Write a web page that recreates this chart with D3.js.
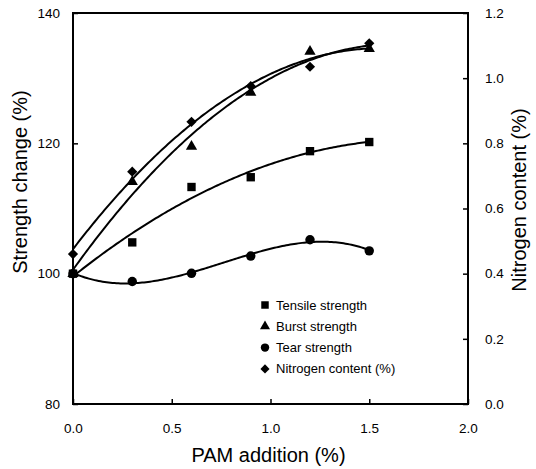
<!DOCTYPE html>
<html>
<head>
<meta charset="UTF-8">
<title>PAM addition chart</title>
<script src="https://cdn.jsdelivr.net/npm/d3@7"></script>
<style>
  body { margin: 0; background: #fff; }
  text { font-family: "Liberation Sans", Arial, sans-serif; fill: #000; }
</style>
</head>
<body>
<div id="chart"></div>
<script>
// PAM addition (%)
var pam = [0, 0.3, 0.6, 0.9, 1.2, 1.5];
// strength change (%), left axis
var tensile = [100, 104.8, 113.3, 114.8, 118.8, 120.2];
var burst = [100, 114.1, 119.5, 127.8, 134.1, 134.5];
var tear = [100, 98.8, 100.05, 102.7, 105.2, 103.5];
// nitrogen content (%), right axis
var nitrogen = [0.46, 0.713, 0.866, 0.976, 1.035, 1.107];

var xTicks = [0, 0.5, 1.0, 1.5, 2.0];
var yLeftTicks = [80, 100, 120, 140];
var yRightTicks = [0, 0.2, 0.4, 0.6, 0.8, 1.0, 1.2];
var legendNames = ["Tensile strength", "Burst strength", "Tear strength", "Nitrogen content (%)"];

var width = 536, height = 469;
var margin = { left: 73, right: 68, top: 13, bottom: 65 };
var iw = width - margin.left - margin.right;
var ih = height - margin.top - margin.bottom;

var svg = d3.select("#chart").append("svg")
    .attr("width", width)
    .attr("height", height);

var g = svg.append("g")
    .attr("transform", "translate(" + margin.left + "," + margin.top + ")");

var x = d3.scaleLinear().domain([0, 2]).range([0, iw]);
var yL = d3.scaleLinear().domain([80, 140]).range([ih, 0]);
var yR = d3.scaleLinear().domain([0, 1.2]).range([ih, 0]);

// least squares polynomial fit (trend lines like in the original)
function polyfit(xs, ys, deg) {
    var n = deg + 1;
    var A = [], b = [];
    for (var i = 0; i < n; i++) {
        A.push([]);
        for (var j = 0; j < n; j++) {
            A[i].push(d3.sum(xs, function (v) { return Math.pow(v, i + j); }));
        }
        b.push(d3.sum(xs, function (v, k) { return ys[k] * Math.pow(v, i); }));
    }
    // gauss elimination
    for (var c = 0; c < n; c++) {
        var p = c;
        for (var r = c + 1; r < n; r++) if (Math.abs(A[r][c]) > Math.abs(A[p][c])) p = r;
        var t = A[c]; A[c] = A[p]; A[p] = t;
        var tb = b[c]; b[c] = b[p]; b[p] = tb;
        for (var r2 = c + 1; r2 < n; r2++) {
            var f = A[r2][c] / A[c][c];
            for (var k = c; k < n; k++) A[r2][k] -= f * A[c][k];
            b[r2] -= f * b[c];
        }
    }
    var coef = new Array(n).fill(0);
    for (var r3 = n - 1; r3 >= 0; r3--) {
        var s = b[r3];
        for (var k2 = r3 + 1; k2 < n; k2++) s -= A[r3][k2] * coef[k2];
        coef[r3] = s / A[r3][r3];
    }
    return function (v) {
        return d3.sum(coef, function (cf, i) { return cf * Math.pow(v, i); });
    };
}

var series = [
    { vals: tensile, y: yL, deg: 2, sym: d3.symbolSquare, size: 70, rot: 0 },
    { vals: burst, y: yL, deg: 2, sym: d3.symbolTriangle, size: 55, rot: 0 },
    { vals: tear, y: yL, deg: 3, sym: d3.symbolCircle, size: 70, rot: 0 },
    // diamond = square turned 45 degrees
    { vals: nitrogen, y: yR, deg: 2, sym: d3.symbolSquare, size: 52, rot: 45 }
];

var xs = d3.range(0, 1.5001, 0.01);
var line = d3.line();

series.forEach(function (s) {
    var fit = polyfit(pam, s.vals, s.deg);
    g.append("path")
        .attr("d", line(xs.map(function (v) { return [x(v), s.y(fit(v))]; })))
        .attr("fill", "none")
        .attr("stroke", "#000")
        .attr("stroke-width", 2);
});

series.forEach(function (s) {
    g.selectAll(null)
        .data(pam)
        .enter().append("path")
        .attr("d", d3.symbol().type(s.sym).size(s.size))
        .attr("transform", function (d, i) {
            return "translate(" + x(d) + "," + s.y(s.vals[i]) + ") rotate(" + s.rot + ")";
        })
        .attr("fill", "#000");
});

// frame
g.append("rect")
    .attr("width", iw).attr("height", ih)
    .attr("fill", "none").attr("stroke", "#000").attr("stroke-width", 2);

// axes
var axB = g.append("g").attr("transform", "translate(0," + ih + ")")
    .call(d3.axisBottom(x).tickValues(xTicks).tickFormat(d3.format(".1f")).tickSizeInner(-5).tickSizeOuter(0).tickPadding(19));
var axL = g.append("g")
    .call(d3.axisLeft(yL).tickValues(yLeftTicks).tickSizeInner(-5).tickSizeOuter(0).tickPadding(13));
var axR = g.append("g").attr("transform", "translate(" + iw + ",0)")
    .call(d3.axisRight(yR).tickValues(yRightTicks).tickFormat(d3.format(".1f")).tickSizeInner(-5).tickSizeOuter(0).tickPadding(17));

[axB, axL, axR].forEach(function (a) {
    a.select(".domain").remove();
    a.selectAll("line").attr("stroke", "#000").attr("stroke-width", 1.5);
    a.selectAll("text").attr("font-size", 13.5).attr("font-family", "Liberation Sans, Arial, sans-serif");
});

// axis titles
svg.append("text")
    .attr("transform", "translate(27,182) rotate(-90)")
    .attr("text-anchor", "middle")
    .attr("font-size", 20)
    .text("Strength change (%)");

svg.append("text")
    .attr("transform", "translate(526,200) rotate(-90)")
    .attr("text-anchor", "middle")
    .attr("font-size", 20)
    .text("Nitrogen content (%)");

svg.append("text")
    .attr("x", margin.left + x(1.0) - 2)
    .attr("y", 462)
    .attr("text-anchor", "middle")
    .attr("font-size", 20)
    .text("PAM addition (%)");

// legend
var leg = svg.append("g").attr("transform", "translate(265,305)");
legendNames.forEach(function (name, i) {
    var row = leg.append("g").attr("transform", "translate(0," + (i * 21.3) + ")");
    row.append("path")
        .attr("d", d3.symbol().type(series[i].sym).size(series[i].size * 0.8))
        .attr("transform", "rotate(" + series[i].rot + ")")
        .attr("fill", "#000");
    row.append("text")
        .attr("x", 11)
        .attr("dy", "0.35em")
        .attr("font-size", 13)
        .text(name);
});
</script>
</body>
</html>
